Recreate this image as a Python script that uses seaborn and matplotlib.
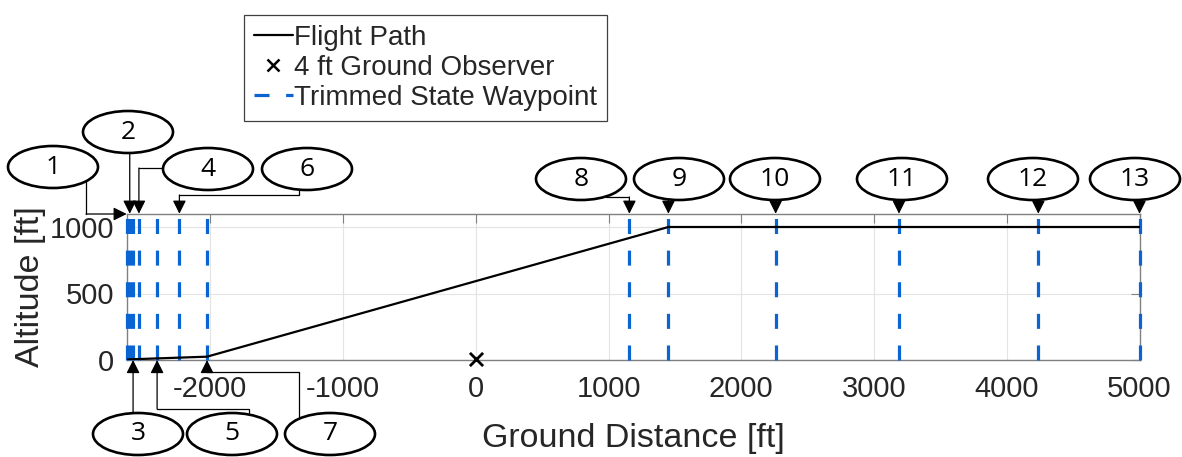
import matplotlib
matplotlib.use("Agg")
import numpy as np
import pandas as pd
import seaborn as sns
import matplotlib.pyplot as plt
from matplotlib.patches import Ellipse
from matplotlib.lines import Line2D

# ---------------- data ----------------
path_x = [-2630, -2025, 1451, 5000]
path_y = [4, 25, 1000, 1000]
observer_x = [0]
observer_y = [4]
waypoint_x = [-2630, -2607, -2582, -2538, -2401, -2233, -2025,
              1157, 1451, 2259, 3188, 4238, 5000]
waypoint_labels = [str(i) for i in range(1, 14)]
x_ticks = [-2000, -1000, 0, 1000, 2000, 3000, 4000, 5000]
y_ticks = [0, 500, 1000]
legend_labels = ["Flight Path", "4 ft Ground Observer", "Trimmed State Waypoint"]
x_label = "Ground Distance [ft]"
y_label = "Altitude [ft]"

# ---------------- style ----------------
sns.set_style("white")
plt.rcParams['font.family'] = ['Liberation Sans', 'DejaVu Sans']
plt.rcParams['axes.unicode_minus'] = False

W, H = 1182, 457
fig = plt.figure(figsize=(W / 100, H / 100), dpi=100)
ax_l, ax_r, ax_t, ax_b = 126.7, 1139.5, 213.7, 360.0
ax = fig.add_axes([ax_l / W, 1 - ax_b / H, (ax_r - ax_l) / W, (ax_b - ax_t) / H])

BLUE = '#0a64d2'
DARK = '#262626'

df_path = pd.DataFrame({"x": path_x, "y": path_y})
df_obs = pd.DataFrame({"x": observer_x, "y": observer_y})

for wx in waypoint_x:
    ax.axvline(wx, color=BLUE, lw=2.3, ls=(0, (4.7, 5.2)), clip_on=False, zorder=3)

sns.lineplot(data=df_path, x="x", y="y", ax=ax, color='black', lw=1.6,
             sort=False, estimator=None, zorder=4)
sns.scatterplot(data=df_obs, x="x", y="y", ax=ax, marker='x', color='black',
                s=90, linewidth=2, zorder=5, clip_on=False)

ax.set_xlim(-2630, 5000)
ax.set_ylim(0, 1100)
ax.set_xticks(x_ticks)
ax.set_yticks(y_ticks)
ax.grid(True, color='#e3e3e3', lw=0.8)
ax.set_axisbelow(True)
for s in ax.spines.values():
    s.set_color('#808080')
    s.set_linewidth(1.0)
ax.tick_params(axis='both', direction='in', length=6.5, width=0.8, color='#808080',
               labelsize=21, labelcolor=DARK, top=True, right=True)
ax.tick_params(axis='x', pad=11)
ax.tick_params(axis='y', pad=9)
ax.set_xlabel(x_label, fontsize=24.5, color=DARK, labelpad=14)
ax.set_ylabel(y_label, fontsize=24.5, color=DARK, labelpad=3)

handles = [
    Line2D([], [], color='black', lw=1.6),
    Line2D([], [], color='black', marker='x', ls='none', markersize=8, mew=1.8),
    Line2D([], [], color=BLUE, lw=2.3, ls=(0, (4.7, 5.2))),
]
leg = fig.legend(handles, legend_labels, loc='upper left',
                 bbox_to_anchor=(244 / W, 1 - 15 / H), bbox_transform=fig.transFigure,
                 fontsize=20, frameon=True, fancybox=False, framealpha=1,
                 edgecolor='#404040', borderaxespad=0, borderpad=0.35,
                 handlelength=1.4, handletextpad=0.05, labelspacing=0.15)
leg.get_frame().set_linewidth(0.9)

# ---------------- callouts ----------------
fig.canvas.draw()

def tip_px(wx, top):
    yv = 1100 if top else 0
    dx, dy = ax.transData.transform((wx, yv))
    return dx, H - dy

ellipse_pos = {1: (53, 167), 2: (128, 132), 4: (208, 169), 6: (307, 169),
               8: (581, 179), 9: (679, 179), 10: (775, 179), 11: (902, 179),
               12: (1033, 179), 13: (1135, 179),
               3: (138, 434), 5: (232, 434), 7: (330, 434)}
bottom_ids = {3, 5, 7}

def route(i, tx):
    if i == 1:
        return [(86, 181), (86, 214)]
    if i == 2:
        return [(tx, 152)]
    if i == 3:
        return [(tx, 413)]
    if i == 4:
        return [(162, 168), (tx, 168)]
    if i == 5:
        return [(249, 413), (249, 409), (tx, 409)]
    if i == 6:
        return [(299, 189), (299, 195), (tx, 195)]
    if i == 7:
        return [(299, 417), (299, 372), (tx, 372)]
    if i == 8:
        return [(606, 197), (tx, 197)]
    return [(tx, 198)]

for idx, (wx, lab) in enumerate(zip(waypoint_x, waypoint_labels)):
    i = idx + 1
    top = i not in bottom_ids
    tx, ty = tip_px(wx, top)
    pts = route(i, tx)
    if len(pts) > 1:
        xs = [p[0] / W for p in pts]
        ys = [1 - p[1] / H for p in pts]
        fig.add_artist(Line2D(xs, ys, color='black', lw=0.9, transform=fig.transFigure))
    sx, sy = pts[-1]
    if i == 1:
        ty = 214
    ax.annotate('', xy=(tx, H - ty), xycoords='figure pixels',
                xytext=(sx, H - sy), textcoords='figure pixels',
                arrowprops=dict(arrowstyle='-|>,head_length=0.5,head_width=0.25',
                                color='black', lw=0.9, mutation_scale=16,
                                shrinkA=0, shrinkB=0),
                annotation_clip=False)
    cx, cy = ellipse_pos[i]
    fig.add_artist(Ellipse((cx / W, 1 - cy / H), 90 / W, 42 / H,
                           transform=fig.transFigure, facecolor='white',
                           edgecolor='black', lw=1.9, zorder=10))
    fig.text(cx / W, 1 - cy / H, lab, ha='center', va='center', fontsize=19,
             color='black', zorder=11, family=['Open Sans', 'DejaVu Sans'])

fig.savefig("out.png", dpi=100)
